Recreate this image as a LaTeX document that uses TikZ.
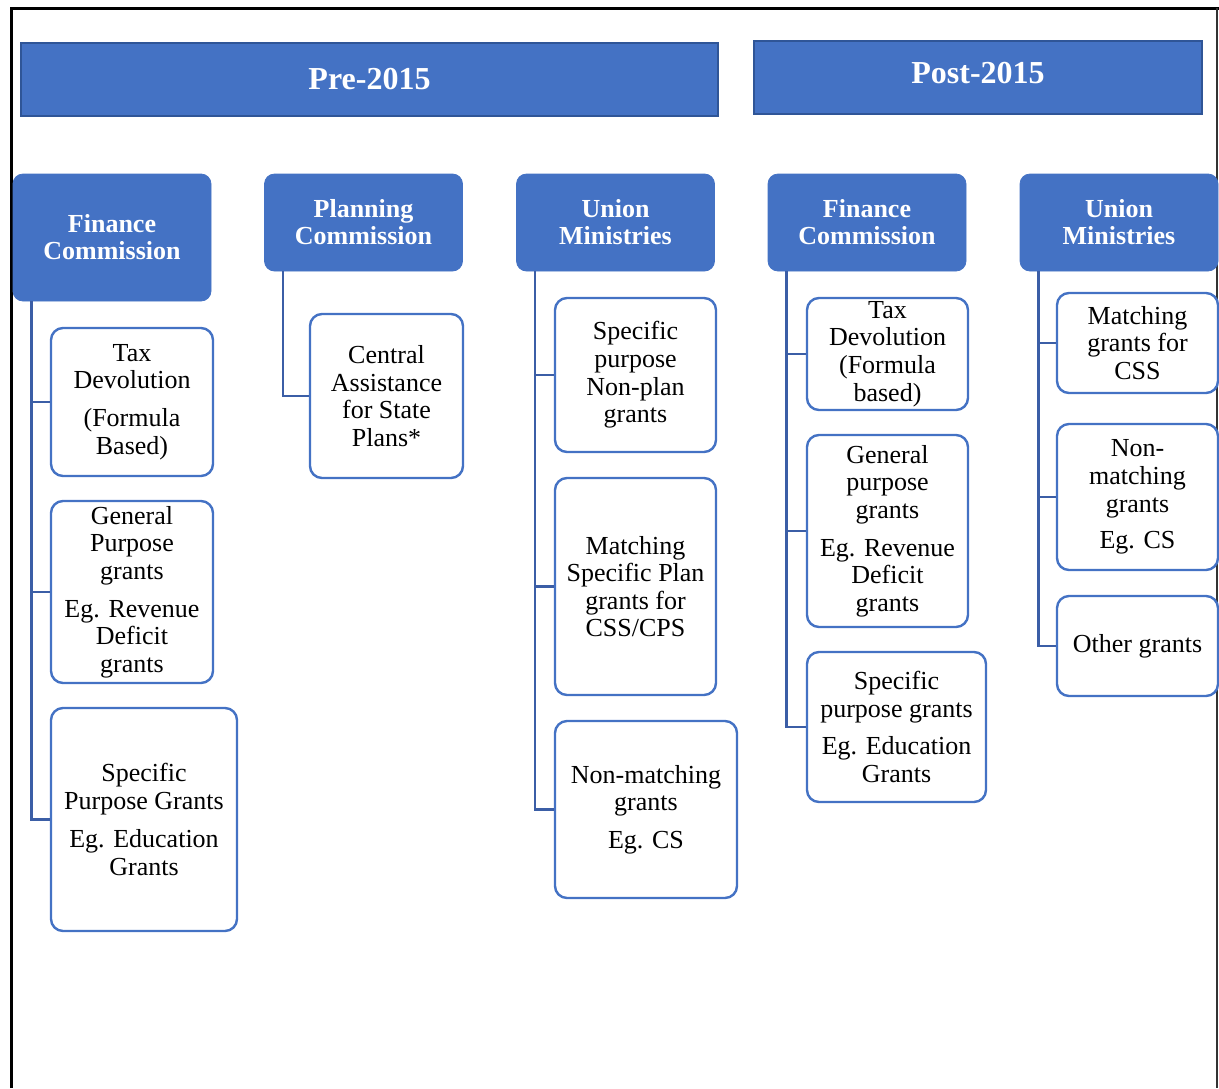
\documentclass[tikz,border=0pt]{standalone}
\usepackage{fontspec}
\setmainfont{Liberation Serif}
\usetikzlibrary{positioning, calc}
\definecolor{hblue}{HTML}{4472C4}
\definecolor{hedge}{HTML}{2F5597}
\definecolor{lblue}{HTML}{3B5EA6}

\begin{document}
\begin{tikzpicture}[x=0.5pt, y=-0.5pt,
    every node/.style={font=\fontsize{13}{13.8}\selectfont, inner sep=0pt, align=center},
    banner/.style={fill=hblue, draw=hedge, line width=1pt, text=white, minimum height=36.5pt, font=\fontsize{16}{18}\selectfont\bfseries},
    head/.style={fill=hblue, draw=hblue, rounded corners=5pt, text=white, minimum width=99pt, font=\fontsize{13}{13.5}\selectfont\bfseries},
    leaf/.style={fill=white, draw=hblue, line width=1.2pt, rounded corners=6pt},
    link/.style={draw=lblue, line width=1.3pt}]

    \useasboundingbox (0,0) rectangle (1219,1088);

    % 1. outer frame
    \draw[line width=1.5pt] (11,1088) -- (11,8) -- (1219,8);
    \draw[line width=0.8pt, black!80] (1217,8) -- (1217,1088);

    % 2. period banners
    \node[banner, minimum width=348.5pt] (pre) at (369.5,79.5) {Pre-2015};
    \node[banner, minimum width=224pt] (post) at (978,77.5) {\raisebox{-2.8pt}[0pt][0pt]{Post-2015}};

    % 3. heads of each column
    \node[head, minimum height=63.5pt] (fcA) at (112,237.5) {Finance\\Commission};
    \node[head, minimum height=48.5pt] (pcA) at (363.5,222.5) {Planning\\Commission};
    \node[head, minimum height=48.5pt] (umA) at (615.5,222.5) {Union\\Ministries};
    \node[head, minimum height=48.5pt] (fcB) at (867,222.5) {Finance\\Commission};
    \node[head, minimum height=48.5pt] (umB) at (1119,222.5) {Union\\Ministries};

    % 4. Pre-2015: Finance Commission
    \node[leaf, minimum width=81pt, minimum height=74pt] (fcA1) at (132,402)
        {Tax\\Devolution\\[5pt](Formula\\Based)};
    \node[leaf, minimum width=81pt, minimum height=91pt] (fcA2) at (132,592)
        {General\\Purpose\\grants\\[5pt]Eg. Revenue\\Deficit\\grants};
    \node[leaf, minimum width=93pt, minimum height=111.5pt] (fcA3) at (144,819.5)
        {Specific\\Purpose Grants\\[5.5pt]Eg. Education\\Grants};

    % 5. Pre-2015: Planning Commission
    \node[leaf, minimum width=76.5pt, minimum height=82pt] (pcA1) at (386.5,396)
        {Central\\Assistance\\for State\\Plans*};

    % 6. Pre-2015: Union Ministries
    \node[leaf, minimum width=80.5pt, minimum height=77pt] (umA1) at (635.5,375)
        {Specific\\purpose\\Non-plan\\grants};
    \node[leaf, minimum width=80.5pt, minimum height=108.5pt] (umA2) at (635.5,586.5)
        {Matching\\Specific Plan\\grants for\\CSS/CPS};
    \node[leaf, minimum width=91pt, minimum height=88.5pt] (umA3) at (646,809.5)
        {Non-matching\\grants\\[5pt]Eg. CS};

    % 7. Post-2015: Finance Commission
    \node[leaf, minimum width=80.5pt, minimum height=56pt] (fcB1) at (887.5,354)
        {Tax\\Devolution\\(Formula\\based)};
    \node[leaf, minimum width=80.5pt, minimum height=96pt] (fcB2) at (887.5,531)
        {General\\purpose\\grants\\[5pt]Eg. Revenue\\Deficit\\grants};
    \node[leaf, minimum width=89.5pt, minimum height=75pt] (fcB3) at (896.5,727)
        {Specific\\purpose grants\\[5pt]Eg. Education\\Grants};

    % 8. Post-2015: Union Ministries
    \node[leaf, minimum width=80.5pt, minimum height=50pt] (umB1) at (1137.5,343)
        {Matching\\grants for\\CSS};
    \node[leaf, minimum width=80.5pt, minimum height=73pt] (umB2) at (1137.5,497)
        {Non-\\matching\\grants\\[4.5pt]Eg. CS};
    \node[leaf, minimum width=80.5pt, minimum height=50pt] (umB3) at (1137.5,646)
        {Other grants};

    % 9. connectors
    \foreach \h/\c in {fcA/fcA1, fcA/fcA2, fcA/fcA3, pcA/pcA1,
                       umA/umA1, umA/umA2, umA/umA3,
                       fcB/fcB1, fcB/fcB2, fcB/fcB3,
                       umB/umB1, umB/umB2, umB/umB3} {
        \draw[link] ([xshift=9.5pt]\h.south west) |- (\c.west);
    }

\end{tikzpicture}
\end{document}
